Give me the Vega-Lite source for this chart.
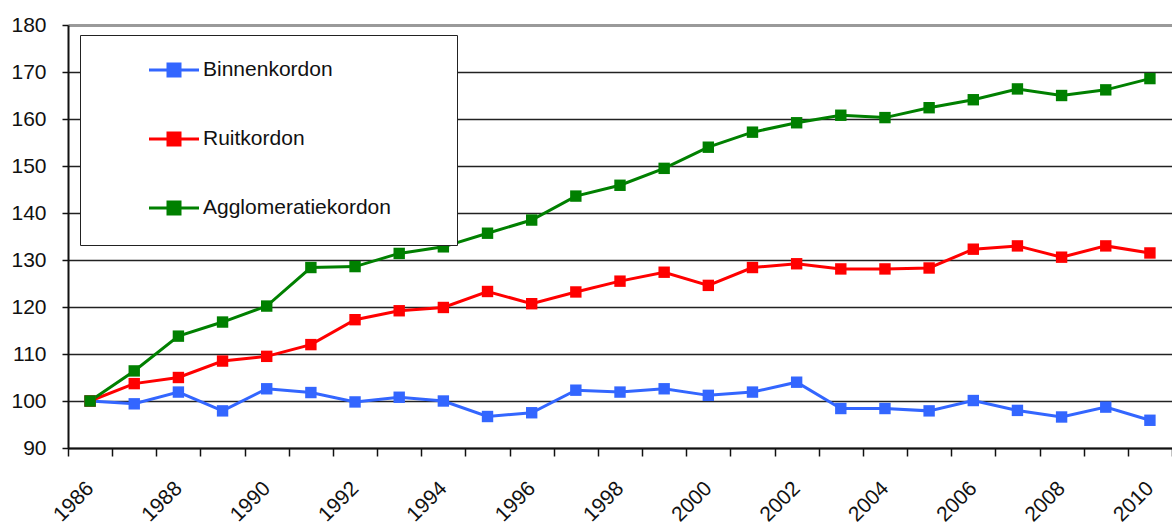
{
  "$schema": "https://vega.github.io/schema/vega-lite/v6.json",
  "autosize": {"type": "none"},
  "padding": {"left": 68, "top": 25, "right": 0, "bottom": 84},
  "width": 1104,
  "height": 423,
  "background": "white",
  "config": {
    "view": {"stroke": null},
    "font": "Liberation Sans",
    "axis": {"labelFont": "Liberation Sans", "labelColor": "#111", "labelFontSize": 21}
  },
  "data": {
    "values": [
      {"year": 1986, "series": "Binnenkordon", "value": 100.0},
      {"year": 1987, "series": "Binnenkordon", "value": 99.4},
      {"year": 1988, "series": "Binnenkordon", "value": 101.9},
      {"year": 1989, "series": "Binnenkordon", "value": 97.9},
      {"year": 1990, "series": "Binnenkordon", "value": 102.6},
      {"year": 1991, "series": "Binnenkordon", "value": 101.8},
      {"year": 1992, "series": "Binnenkordon", "value": 99.8},
      {"year": 1993, "series": "Binnenkordon", "value": 100.8},
      {"year": 1994, "series": "Binnenkordon", "value": 100.0},
      {"year": 1995, "series": "Binnenkordon", "value": 96.7},
      {"year": 1996, "series": "Binnenkordon", "value": 97.5},
      {"year": 1997, "series": "Binnenkordon", "value": 102.3},
      {"year": 1998, "series": "Binnenkordon", "value": 101.9},
      {"year": 1999, "series": "Binnenkordon", "value": 102.6},
      {"year": 2000, "series": "Binnenkordon", "value": 101.2},
      {"year": 2001, "series": "Binnenkordon", "value": 101.9},
      {"year": 2002, "series": "Binnenkordon", "value": 104.0},
      {"year": 2003, "series": "Binnenkordon", "value": 98.4},
      {"year": 2004, "series": "Binnenkordon", "value": 98.4},
      {"year": 2005, "series": "Binnenkordon", "value": 97.9},
      {"year": 2006, "series": "Binnenkordon", "value": 100.1},
      {"year": 2007, "series": "Binnenkordon", "value": 98.0},
      {"year": 2008, "series": "Binnenkordon", "value": 96.6},
      {"year": 2009, "series": "Binnenkordon", "value": 98.7},
      {"year": 2010, "series": "Binnenkordon", "value": 95.9},
      {"year": 1986, "series": "Ruitkordon", "value": 100.0},
      {"year": 1987, "series": "Ruitkordon", "value": 103.7},
      {"year": 1988, "series": "Ruitkordon", "value": 105.0},
      {"year": 1989, "series": "Ruitkordon", "value": 108.5},
      {"year": 1990, "series": "Ruitkordon", "value": 109.5},
      {"year": 1991, "series": "Ruitkordon", "value": 112.0},
      {"year": 1992, "series": "Ruitkordon", "value": 117.3},
      {"year": 1993, "series": "Ruitkordon", "value": 119.2},
      {"year": 1994, "series": "Ruitkordon", "value": 119.9},
      {"year": 1995, "series": "Ruitkordon", "value": 123.3},
      {"year": 1996, "series": "Ruitkordon", "value": 120.7},
      {"year": 1997, "series": "Ruitkordon", "value": 123.2},
      {"year": 1998, "series": "Ruitkordon", "value": 125.5},
      {"year": 1999, "series": "Ruitkordon", "value": 127.4},
      {"year": 2000, "series": "Ruitkordon", "value": 124.6},
      {"year": 2001, "series": "Ruitkordon", "value": 128.4},
      {"year": 2002, "series": "Ruitkordon", "value": 129.2},
      {"year": 2003, "series": "Ruitkordon", "value": 128.1},
      {"year": 2004, "series": "Ruitkordon", "value": 128.1},
      {"year": 2005, "series": "Ruitkordon", "value": 128.3},
      {"year": 2006, "series": "Ruitkordon", "value": 132.3},
      {"year": 2007, "series": "Ruitkordon", "value": 133.0},
      {"year": 2008, "series": "Ruitkordon", "value": 130.6},
      {"year": 2009, "series": "Ruitkordon", "value": 133.0},
      {"year": 2010, "series": "Ruitkordon", "value": 131.5},
      {"year": 1986, "series": "Agglomeratiekordon", "value": 100.0},
      {"year": 1987, "series": "Agglomeratiekordon", "value": 106.4},
      {"year": 1988, "series": "Agglomeratiekordon", "value": 113.8},
      {"year": 1989, "series": "Agglomeratiekordon", "value": 116.8},
      {"year": 1990, "series": "Agglomeratiekordon", "value": 120.2},
      {"year": 1991, "series": "Agglomeratiekordon", "value": 128.4},
      {"year": 1992, "series": "Agglomeratiekordon", "value": 128.6},
      {"year": 1993, "series": "Agglomeratiekordon", "value": 131.4},
      {"year": 1994, "series": "Agglomeratiekordon", "value": 132.8},
      {"year": 1995, "series": "Agglomeratiekordon", "value": 135.7},
      {"year": 1996, "series": "Agglomeratiekordon", "value": 138.5},
      {"year": 1997, "series": "Agglomeratiekordon", "value": 143.6},
      {"year": 1998, "series": "Agglomeratiekordon", "value": 145.9},
      {"year": 1999, "series": "Agglomeratiekordon", "value": 149.5},
      {"year": 2000, "series": "Agglomeratiekordon", "value": 154.0},
      {"year": 2001, "series": "Agglomeratiekordon", "value": 157.2},
      {"year": 2002, "series": "Agglomeratiekordon", "value": 159.2},
      {"year": 2003, "series": "Agglomeratiekordon", "value": 160.8},
      {"year": 2004, "series": "Agglomeratiekordon", "value": 160.3},
      {"year": 2005, "series": "Agglomeratiekordon", "value": 162.4},
      {"year": 2006, "series": "Agglomeratiekordon", "value": 164.1},
      {"year": 2007, "series": "Agglomeratiekordon", "value": 166.4},
      {"year": 2008, "series": "Agglomeratiekordon", "value": 165.0},
      {"year": 2009, "series": "Agglomeratiekordon", "value": 166.2},
      {"year": 2010, "series": "Agglomeratiekordon", "value": 168.6}
    ]
  },
  "mark": {"type": "line", "strokeWidth": 3, "point": {"shape": "square", "size": 130, "filled": true, "opacity": 1}},
  "encoding": {
    "x": {
      "field": "year", "type": "quantitative",
      "scale": {"domain": [1985.5, 2010.5], "nice": false, "zero": false},
      "axis": {
        "title": null,
        "grid": false,
        "values": [1985.5, 1986, 1986.5, 1987.5, 1988, 1988.5, 1989.5, 1990, 1990.5, 1991.5, 1992, 1992.5, 1993.5, 1994, 1994.5, 1995.5, 1996, 1996.5, 1997.5, 1998, 1998.5, 1999.5, 2000, 2000.5, 2001.5, 2002, 2002.5, 2003.5, 2004, 2004.5, 2005.5, 2006, 2006.5, 2007.5, 2008, 2008.5, 2009.5, 2010, 2010.5],
        "labelExpr": "datum.value % 2 == 0 ? '' + datum.value : ''",
        "tickOpacity": {"condition": {"test": "datum.value % 1 == 0", "value": 0}, "value": 1},
        "tickSize": 8,
        "tickWidth": 1.5,
        "tickColor": "#111",
        "domainColor": "#111",
        "domainWidth": 2,
        "labelAngle": -45,
        "labelAlign": "right",
        "labelBaseline": "middle",
        "labelPadding": 29,
        "labelOverlap": false,
        "labelBound": false,
        "labelFlush": false
      }
    },
    "y": {
      "field": "value", "type": "quantitative",
      "scale": {"domain": [90, 180], "nice": false, "zero": false},
      "axis": {
        "title": null,
        "values": [90, 100, 110, 120, 130, 140, 150, 160, 170, 180],
        "grid": true,
        "gridColor": {"condition": {"test": "datum.value == 180", "value": "#9a9a9a"}, "value": "#222"},
        "gridWidth": {"condition": {"test": "datum.value == 180", "value": 3}, "value": 1.6},
        "tickSize": 6,
        "tickWidth": 1.5,
        "tickColor": "#111",
        "domainColor": "#111",
        "domainWidth": 2,
        "labelPadding": 16
      }
    },
    "color": {
      "field": "series", "type": "nominal",
      "sort": ["Binnenkordon", "Ruitkordon", "Agglomeratiekordon"],
      "scale": {"domain": ["Binnenkordon", "Ruitkordon", "Agglomeratiekordon"], "range": ["#3366ff", "#ff0000", "#008000"]},
      "legend": {
        "orient": "none",
        "legendX": 12,
        "legendY": 10,
        "direction": "vertical",
        "title": "·",
        "titleOrient": "right",
        "titleColor": "white",
        "titlePadding": 38,
        "fillColor": "white",
        "strokeColor": "#222",
        "padding": 24.5,
        "symbolType": "M-5,0H5M-1.2,-1.2H1.2V1.2H-1.2Z",
        "symbolSize": 100,
        "symbolStrokeWidth": 3,
        "symbolOffset": 59,
        "labelOffset": 18.5,
        "rowPadding": 44,
        "labelFont": "Liberation Sans",
        "labelFontSize": 21,
        "labelColor": "#111",
        "labelLimit": 400,
        "encode": {"symbols": {"update": {"fill": {"scale": "color", "field": "value"}, "stroke": {"scale": "color", "field": "value"}, "opacity": {"value": 1}}}}
      }
    }
  }
}
